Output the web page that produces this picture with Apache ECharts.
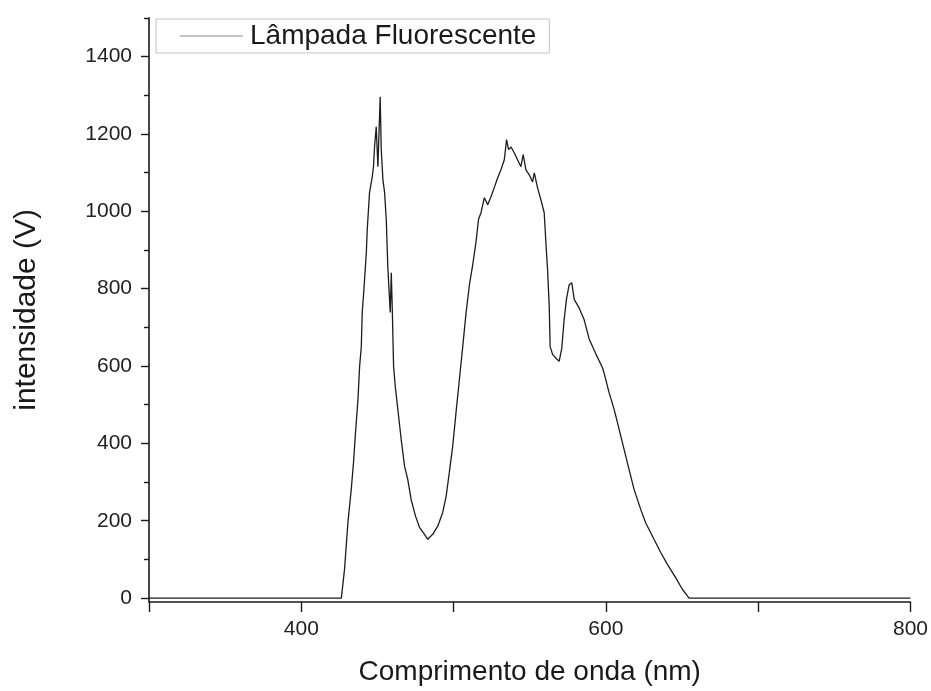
<!DOCTYPE html>
<html>
<head>
<meta charset="utf-8">
<script src="https://cdn.jsdelivr.net/npm/echarts@6/dist/echarts.min.js"></script>
<style>
  html, body { margin: 0; padding: 0; background: #fff; }
  #chart { width: 931px; height: 691px; }
</style>
</head>
<body>
<div id="chart"></div>
<script>
// Emission spectrum of a fluorescent lamp
const seriesName = 'Lâmpada Fluorescente';

const wavelength = [
  300, 426.3, 428.4, 430.6, 432.8, 434.3, 435.6, 437.2, 438.3, 439.4, 440, 441.1,
  442.7, 443.3, 444.8, 446.6, 447.4, 448.1, 449.2, 450.3, 451.8, 452.5, 453.6,
  454.7, 455.8, 456.8, 457.5, 458.4, 459.1, 459.7, 460.6, 461.7, 463.4, 465.6,
  467.8, 469.9, 472.1, 475, 477.6, 480.9, 483, 486.3, 489.6, 492.9, 495.1, 497.2,
  499.4, 501.6, 503.8, 506, 508.2, 510.4, 512.5, 514.7, 516.4, 518, 520.2, 522.4,
  524.6, 526.7, 528.9, 531.1, 533.3, 534.8, 536.1, 537.7, 539.8, 542, 544.2,
  545.7, 547.5, 549.7, 551.8, 553, 555.1, 557.3, 559.5, 560.6, 561.7, 562.8,
  563.4, 565, 567.2, 569.3, 571, 572.6, 574.1, 575.9, 577.6, 579.2, 582.4, 585.7,
  589, 593.3, 597.7, 598.8, 602.1, 605.4, 608.7, 611.9, 615.2, 618.5, 622.8,
  626.1, 631.6, 636, 640.3, 645.8, 650.2, 653.5, 654.6, 800
];

const intensity = [
  0, 0, 75, 195, 281, 351, 428, 513, 599, 650, 738, 797,
  893, 952, 1048, 1089, 1115, 1166, 1218, 1115, 1296, 1159, 1081,
  1048, 978, 857, 805, 738, 841, 754, 599, 547, 488, 410,
  341, 307, 255, 212, 183, 165, 152, 165, 186, 222, 263, 325,
  392, 480, 565, 650, 738, 810, 860, 920, 980, 996, 1035, 1017,
  1038, 1061, 1086, 1107, 1133, 1185, 1159, 1166, 1151, 1133, 1115,
  1146, 1107, 1094, 1076, 1099, 1061, 1030, 996, 919, 849, 754,
  650, 630, 620, 612, 645, 720, 772, 810, 815, 772, 750, 720,
  670, 632, 596, 582, 531, 488, 436, 385, 333, 281, 230,
  195, 152, 118, 88, 53, 23, 6, 0, 0
];

const yLabelValues = [0, 200, 400, 600, 800, 1000, 1200, 1400];
const yMinorValues = [100, 300, 500, 700, 900, 1100, 1300, 1500];
const xLabelValues = [400, 600, 800];

const FONT = '"Liberation Sans", Arial, sans-serif';
const AXIS_COLOR = '#1a1a1a';

const yRange = { min: -10, max: 1500 };

const plain = (v) => String(Math.round(v));

const chart = echarts.init(document.getElementById('chart'), null, { renderer: 'canvas' });

chart.setOption({
  animation: false,
  backgroundColor: '#fff',
  grid: { left: 149, right: 19, top: 17.75, bottom: 88 },
  legend: {
    left: 156,
    top: 19,
    padding: [3, 13, 3, 24],
    borderColor: '#c4c4c4',
    borderWidth: 1,
    icon: 'rect',
    itemWidth: 63,
    itemHeight: 1.2,
    itemStyle: { color: '#8a8a8a', borderWidth: 0 },
    textStyle: { fontFamily: FONT, fontSize: 28, color: '#1a1a1a', padding: [0, 0, 0, 2] },
    data: [seriesName]
  },
  xAxis: {
    type: 'value',
    min: 300,
    max: 800,
    interval: 100,
    name: 'Comprimento de onda (nm)',
    nameLocation: 'middle',
    nameGap: 56,
    nameTextStyle: { fontFamily: FONT, fontSize: 28, color: '#1a1a1a' },
    axisLine: { show: true, onZero: false, lineStyle: { color: AXIS_COLOR, width: 1.6 } },
    axisTick: { show: true, inside: false, length: 10, lineStyle: { color: AXIS_COLOR, width: 1.4 } },
    axisLabel: {
      fontFamily: FONT, fontSize: 21, color: '#222', margin: 17,
      customValues: xLabelValues,
      formatter: plain
    },
    splitLine: { show: false }
  },
  yAxis: [
    {
      type: 'value',
      min: yRange.min,
      max: yRange.max,
      name: 'intensidade (V)',
      nameLocation: 'middle',
      nameGap: 107,
      nameRotate: 90,
      nameTextStyle: { fontFamily: FONT, fontSize: 30, color: '#1a1a1a' },
      axisLine: { show: true, onZero: false, lineStyle: { color: AXIS_COLOR, width: 1.6 } },
      axisTick: { show: true, length: 8, customValues: yLabelValues, lineStyle: { color: AXIS_COLOR, width: 1.4 } },
      axisLabel: {
        fontFamily: FONT, fontSize: 21, color: '#222', margin: 17,
        customValues: yLabelValues,
        formatter: plain
      },
      splitLine: { show: false }
    },
    {
      type: 'value',
      min: yRange.min,
      max: yRange.max,
      position: 'left',
      axisLine: { show: false },
      axisTick: { show: true, length: 5, customValues: yMinorValues, lineStyle: { color: AXIS_COLOR, width: 1.4 } },
      axisLabel: { show: false },
      splitLine: { show: false }
    }
  ],
  series: [{
    name: seriesName,
    type: 'line',
    yAxisIndex: 0,
    data: wavelength.map((w, i) => [w, intensity[i]]),
    symbol: 'none',
    lineStyle: { color: '#1c1c1c', width: 1.3 },
    itemStyle: { color: '#1c1c1c' }
  }]
});
</script>
</body>
</html>
